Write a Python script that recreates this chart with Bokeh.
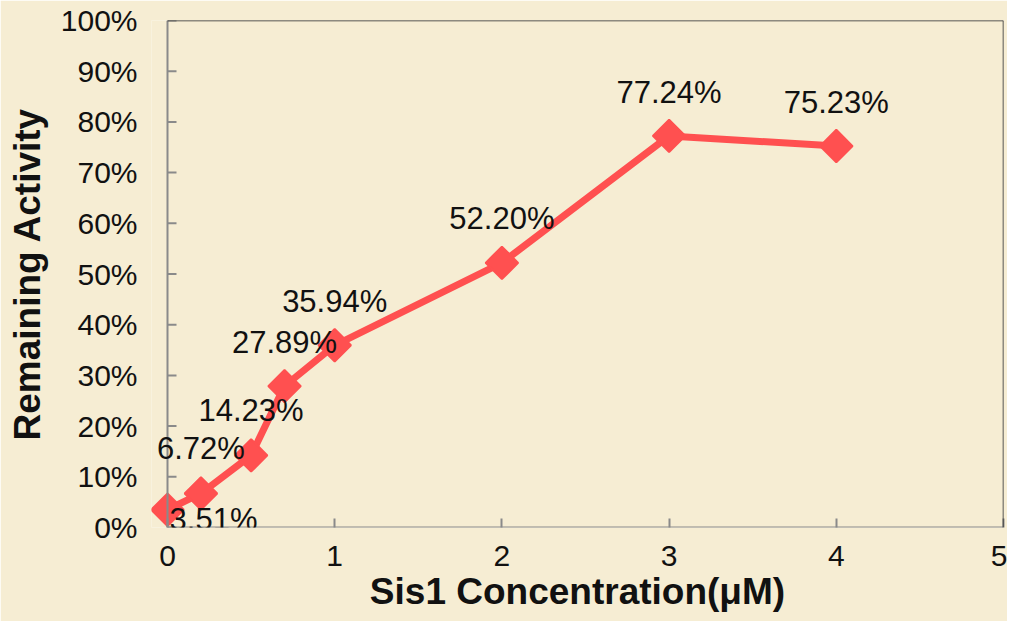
import numpy as np
from bokeh.plotting import figure
from bokeh.models import ColumnDataSource, FixedTicker, LabelSet, Arrow
from bokeh.core.properties import value
from bokeh.embed import file_html
from bokeh.resources import INLINE

# Data
concentration = [0, 0.2, 0.5, 0.7, 1, 2, 3, 4]
activity = [3.51, 6.72, 14.23, 27.89, 35.94, 52.20, 77.24, 75.23]
point_labels = ["3.51%", "6.72%", "14.23%", "27.89%", "35.94%", "52.20%", "77.24%", "75.23%"]
y_ticks = [0, 10, 20, 30, 40, 50, 60, 70, 80, 90, 100]
y_tick_labels = ["0%", "10%", "20%", "30%", "40%", "50%", "60%", "70%", "80%", "90%", "100%"]
x_ticks = [0, 1, 2, 3, 4, 5]
X_MIN, X_MAX, Y_MIN, Y_MAX = 0, 5, 0, 100

# Styles
BG = "#F6EDD3"
RED = "#FF5050"
AXIS_GREY = "#8a8a8a"
FONT = "Liberation Sans"
label_dx = [46, 0, 0, 0, 0, 0, 0, 0]
label_dy = [-20, 34, 34, 33, 33, 34, 33, 33]
LEFT_PAD_PX = 16            # room for the first marker left of the y axis
FRAME_W = 1003 - 151
px_per_unit = (FRAME_W - LEFT_PAD_PX) / (X_MAX - X_MIN)
x_pad = LEFT_PAD_PX / px_per_unit
tick_len = 9 / px_per_unit

p = figure(width=1007, height=621, x_range=(X_MIN - x_pad, X_MAX), y_range=(Y_MIN, Y_MAX),
           output_backend="svg", toolbar_location=None,
           min_border_left=151, min_border_right=4, min_border_top=20, min_border_bottom=94)
p.background_fill_color = BG
p.border_fill_color = BG
p.grid.visible = False
p.outline_line_color = None

for ax in (p.xaxis, p.yaxis):
    ax.axis_line_color = None
    ax.major_tick_line_color = AXIS_GREY
    ax.major_tick_line_width = 2
    ax.major_tick_in = 9
    ax.major_tick_out = 0
    ax.minor_tick_line_color = None
    ax.major_label_text_font = FONT
    ax.major_label_text_font_size = "30px"
    ax.major_label_text_color = "#111111"
    ax.axis_label_text_font = FONT
    ax.axis_label_text_font_style = "bold"
    ax.axis_label_text_font_size = "37px"
    ax.axis_label_text_color = "#111111"

p.yaxis.ticker = FixedTicker(ticks=y_ticks)
p.yaxis.major_label_overrides = {t: l for t, l in zip(y_ticks, y_tick_labels)}
p.yaxis.major_tick_line_color = None
p.yaxis.major_label_standoff = 14
p.yaxis.axis_label = "Remaining Activity"
p.yaxis.axis_label_standoff = 10

p.xaxis.ticker = FixedTicker(ticks=x_ticks)
p.xaxis.major_label_standoff = 18
p.xaxis.axis_label = "Sis1 Concentration(μM)"
p.xaxis.axis_label_standoff = 2

# axis lines and frame borders
p.add_layout(Arrow(end=None, x_start=X_MIN, y_start=Y_MIN, x_end=X_MIN, y_end=Y_MAX,
                   line_color=AXIS_GREY, line_width=2))
p.add_layout(Arrow(end=None, x_start=X_MIN, y_start=Y_MIN, x_end=X_MAX, y_end=Y_MIN,
                   line_color=AXIS_GREY, line_width=2))
p.add_layout(Arrow(end=None, x_start=X_MIN, y_start=Y_MAX, x_end=X_MAX, y_end=Y_MAX,
                   line_color="#222222", line_width=1.5))
p.add_layout(Arrow(end=None, x_start=X_MAX, y_start=Y_MIN, x_end=X_MAX, y_end=Y_MAX,
                   line_color="#222222", line_width=1.5))
# inward y ticks at the y axis
p.segment(x0=[X_MIN] * len(y_ticks), x1=[X_MIN + tick_len] * len(y_ticks),
          y0=y_ticks, y1=y_ticks, line_color=AXIS_GREY, line_width=2)

src = ColumnDataSource(dict(x=concentration, y=activity, lab=point_labels,
                            dx=label_dx, dy=label_dy))

p.line("x", "y", source=src, line_color=RED, line_width=7, line_join="round")
p.scatter("x", "y", source=src, marker="square", angle=np.pi / 4, size=23,
          fill_color=RED, line_color=RED, line_width=2)
p.add_layout(LabelSet(x="x", y="y", text="lab", source=src, x_offset="dx", y_offset="dy",
                      text_font=value(FONT), text_font_size=value("31px"),
                      text_color="#111111",
                      text_align="center", text_baseline="alphabetic"))

open("out.html", "w").write(file_html(p, INLINE))
